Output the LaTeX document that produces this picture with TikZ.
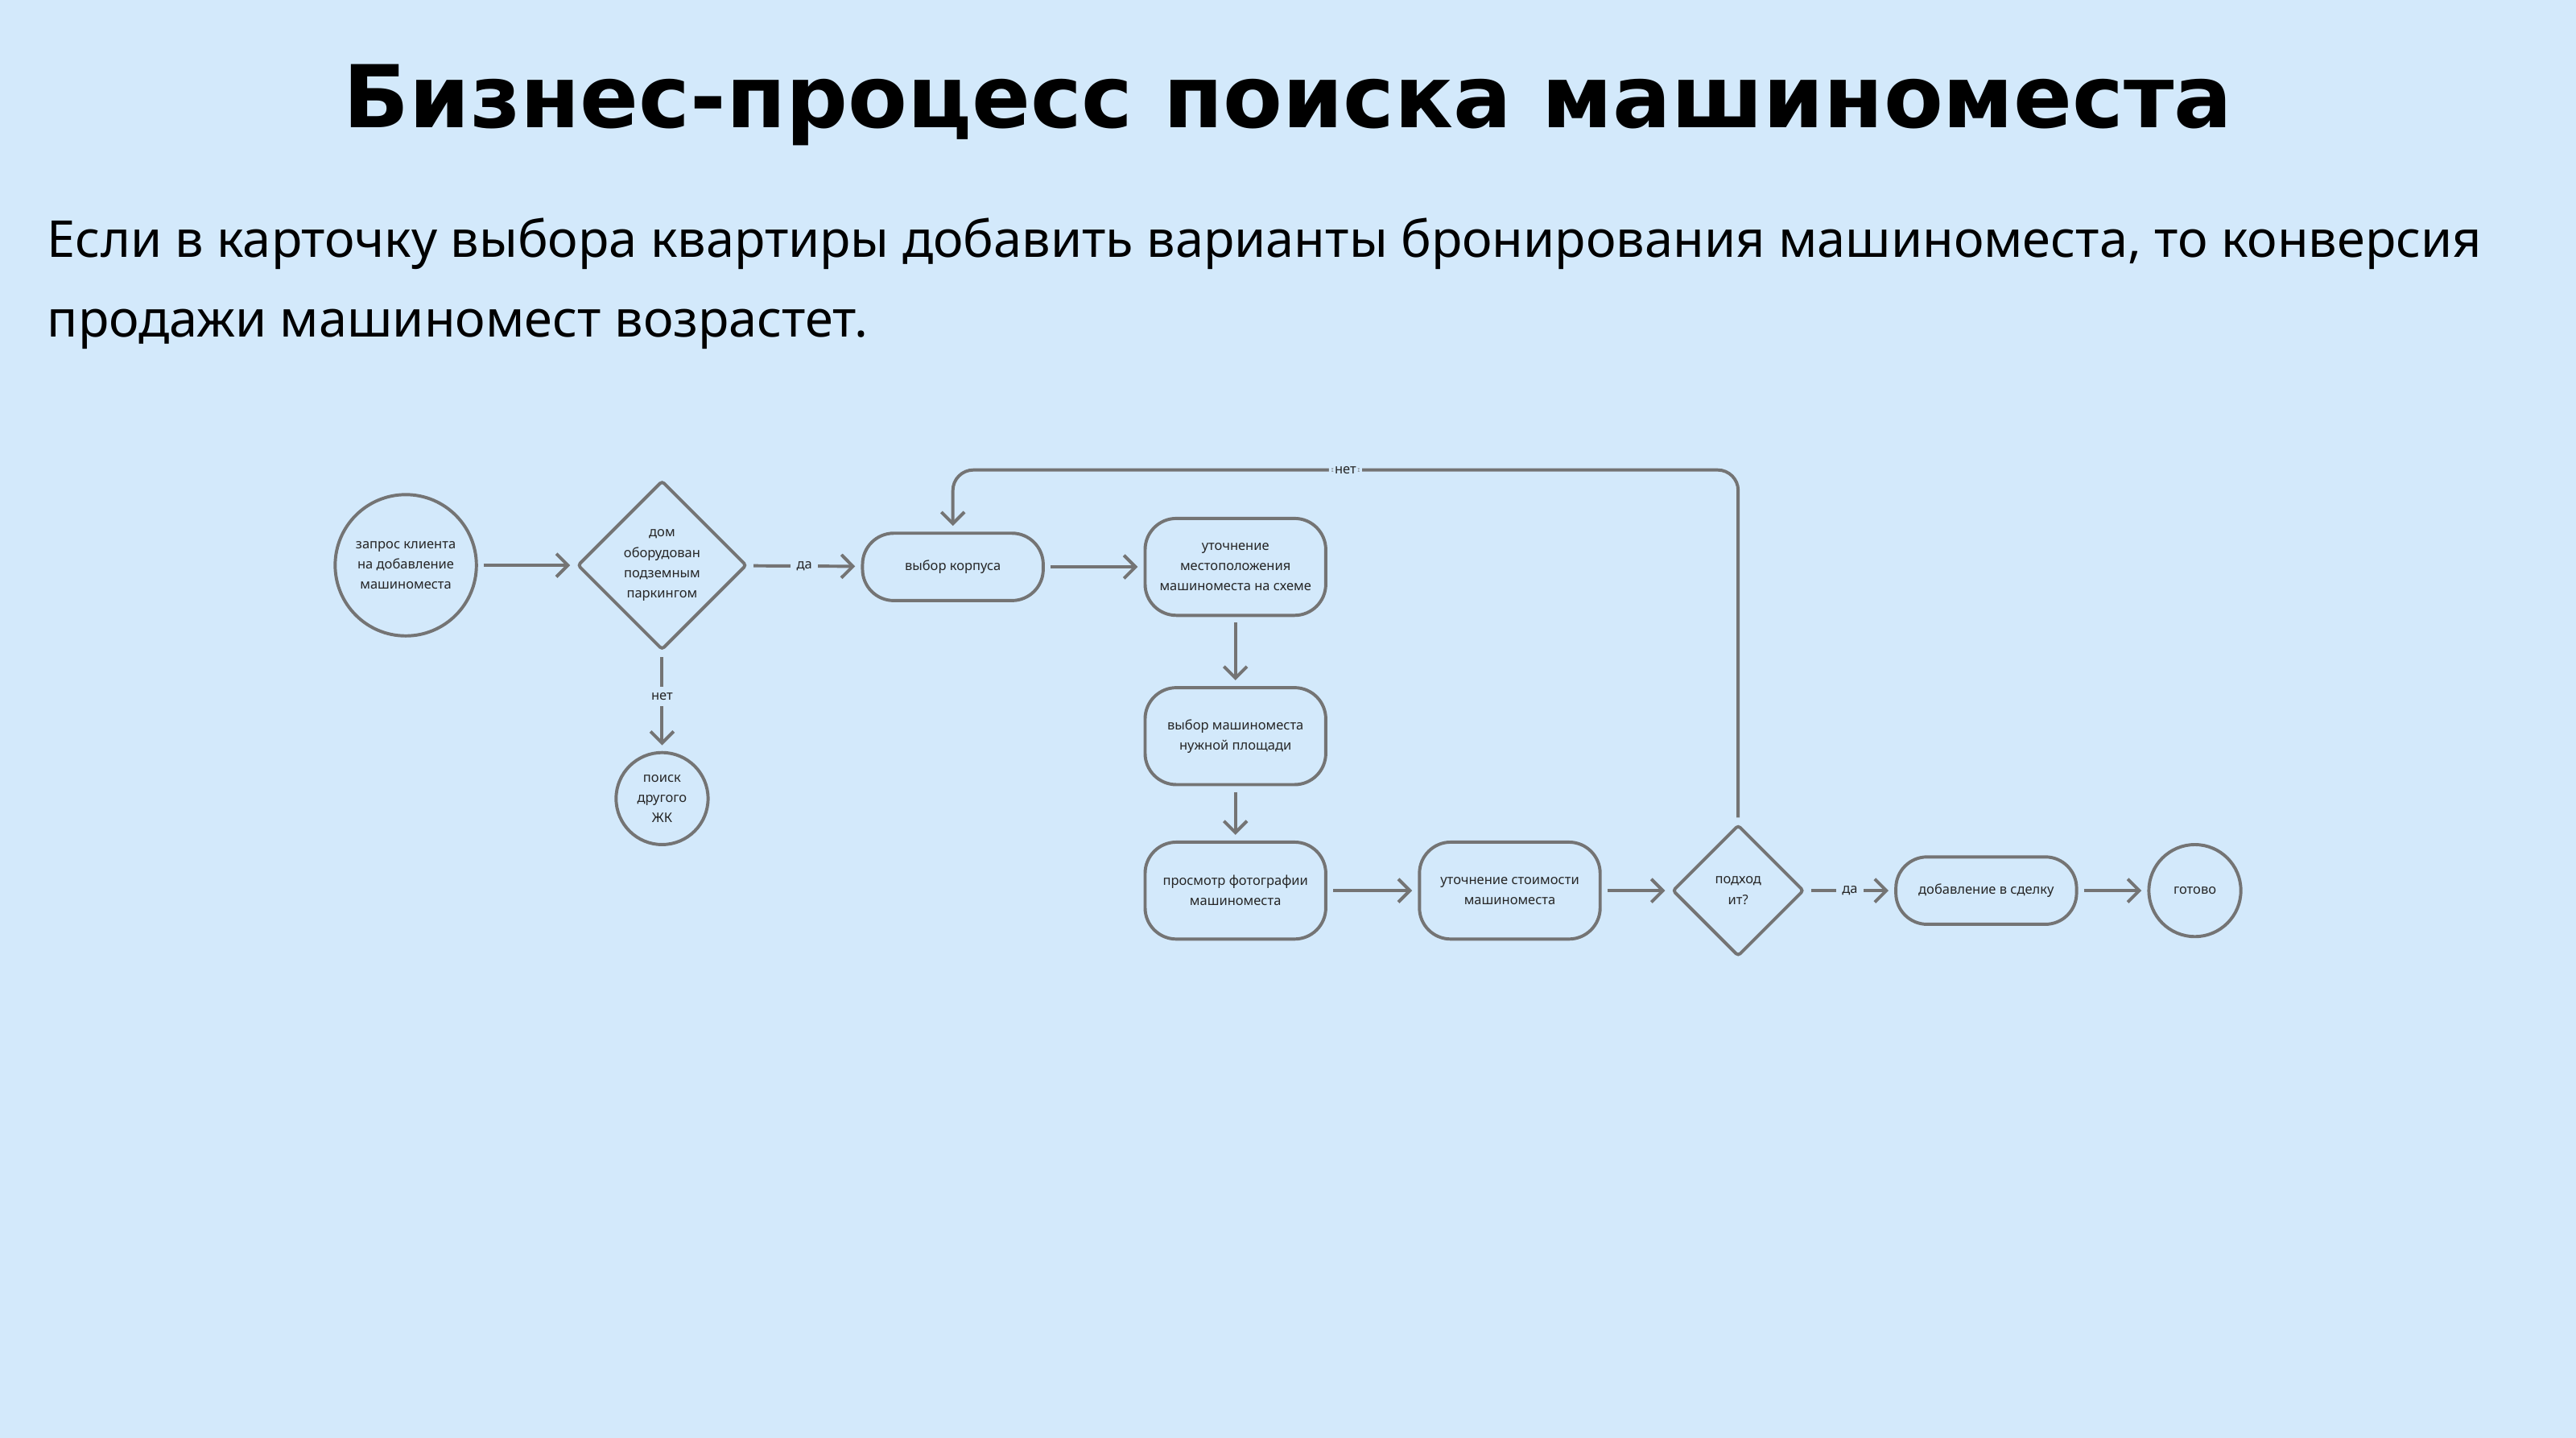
\documentclass[tikz,border=0pt]{standalone}
\usepackage{fontspec}
\setmainfont{Noto Sans}
\newfontfamily\titlefont{DejaVu Sans}
\usetikzlibrary{shapes.geometric,arrows.meta,positioning}
\definecolor{bgblue}{HTML}{D3E9FB}
\definecolor{linegrey}{HTML}{747474}

\begin{document}
\begin{tikzpicture}[x=0.02cm,y=-0.02cm,>={Straight Barb[length=4pt,width=8pt]},
    line width=1.1pt,
    every node/.style={font=\fontsize{4.6}{7}\selectfont,align=center,text=black!85},
    circ/.style={circle,draw=linegrey,inner sep=0pt},
    proc/.style={rectangle,rounded corners=0.38cm,draw=linegrey,minimum width=2.2cm,inner sep=1pt},
    cond/.style={diamond,aspect=1,draw=linegrey,rounded corners=1pt,inner sep=0pt},
    link/.style={->,draw=linegrey,shorten >=2pt,shorten <=2pt},
    lbl/.style={fill=bgblue,inner sep=2pt}]

    \fill[bgblue] (0,0) rectangle (1568,875);

    \node[font=\titlefont\fontsize{30}{36}\selectfont\bfseries,text=black] (title) at (784,64) {Бизнес-процесс поиска машиноместа};
    \node[font=\fontsize{17.6}{27.5}\selectfont,align=left,anchor=north west,text=black] (sub) at (22,126)
        {Если в карточку выбора квартиры добавить варианты бронирования машиноместа, то конверсия\\продажи машиномест возрастет.};

    \node[circ, minimum size=1.72cm] (req) at (247,344) {запрос клиента\\на добавление\\машиноместа};
    \node[cond, minimum size=2.06cm] (park) at (403,344) {дом\\оборудован\\подземным\\паркингом};
    \node[circ, minimum size=1.12cm] (other) at (403,486) {поиск\\другого\\ЖК};
    \node[proc, minimum height=0.82cm] (corp) at (580,345) {выбор корпуса};
    \node[proc, minimum height=1.18cm] (loc) at (752,345) {уточнение\\местоположения\\машиноместа на схеме};
    \node[proc, minimum height=1.18cm] (area) at (752,448) {выбор машиноместа\\нужной площади};
    \node[proc, minimum height=1.18cm] (photo) at (752,542) {просмотр фотографии\\машиноместа};
    \node[proc, minimum height=1.18cm] (price) at (919,542) {уточнение стоимости\\машиноместа};
    \node[cond, minimum size=1.6cm] (fit) at (1058,542) {подход\\ит?};
    \node[proc, minimum height=0.82cm] (deal) at (1209,542) {добавление в сделку};
    \node[circ, minimum size=1.12cm] (done) at (1336,542) {готово};

    \draw[link] (req) -- (park);
    \draw[link] (park) -- node[lbl] {да} (corp);
    \draw[link] (park) -- node[lbl,pos=0.45] {нет} (other);
    \draw[link] (corp) -- (loc);
    \draw[link] (loc) -- (area);
    \draw[link] (area) -- (photo);
    \draw[link] (photo) -- (price);
    \draw[link] (price) -- (fit);
    \draw[link] (fit) -- node[lbl] {да} (deal);
    \draw[link] (deal) -- (done);
    \draw[link,rounded corners=0.25cm] (fit.north) -- (1058,286) -- node[lbl,pos=0.5] {нет} (580,286) -- (corp.north);
\end{tikzpicture}
\end{document}
